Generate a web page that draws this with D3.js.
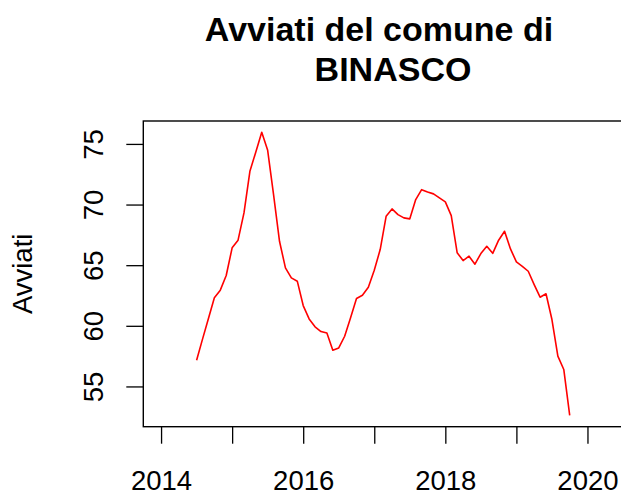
<!DOCTYPE html>
<html>
<head>
<meta charset="utf-8">
<script src="https://cdn.jsdelivr.net/npm/d3@7"></script>
<style>
  body { margin: 0; background: #fff; }
  text { font-family: "Liberation Sans", Arial, sans-serif; }
</style>
</head>
<body>
<div id="chart"></div>
<script>
/* Avviati - BINASCO, monthly series */

const startYear = 2014, startMonth = 7; // first observation: July 2014
const avviati = [
    57.16, 58.9, 60.6, 62.31, 62.94, 64.15, 66.43, 67.06, 69.31, 72.74,
    74.34, 75.96, 74.47, 70.8, 66.97, 64.78, 63.95, 63.68, 61.67, 60.57,
    59.92, 59.53, 59.4, 57.99, 58.18, 59.14, 60.66, 62.25, 62.52, 63.18,
    64.58, 66.29, 69.03, 69.64, 69.17, 68.9, 68.82, 70.41, 71.23, 71.04,
    70.88, 70.55, 70.22, 69.09, 66.02, 65.38, 65.74, 65.08, 65.96, 66.56,
    65.98, 67.06, 67.8, 66.34, 65.27, 64.91, 64.5, 63.4, 62.36, 62.64,
    60.52, 57.5, 56.4, 52.61
];
const xTicks = [2014, 2015, 2016, 2017, 2018, 2019, 2020];
const xLabels = [2014, 2016, 2018, 2020];
const yTicks = [55, 60, 65, 70, 75];

const width = 621,
    height = 493,
    margin = ({ top: 121, right: -2, bottom: 66.3, left: 143.3 });

const data = avviati.map((v, i) => ({
    t: startYear + (startMonth - 1 + i) / 12,
    value: v
}));

let svg = d3.select("#chart")
    .append("svg")
    .attr("width", width)
    .attr("height", height);

let x = d3.scaleLinear()
    .domain([2013.75, 2020.5])
    .range([margin.left, width - margin.right]);

let y = d3.scaleLinear()
    .domain([51.68, 76.89])
    .range([height - margin.bottom, margin.top]);

// x axis
let gx = svg.append("g")
    .attr("transform", `translate(0,${height - margin.bottom})`)
    .call(d3.axisBottom(x)
        .tickValues(xTicks)
        .tickSize(17)
        .tickPadding(27)
        .tickFormat(d => xLabels.includes(d) ? d : ""));
gx.select(".domain").remove();
gx.selectAll(".tick line").attr("stroke", "#000").attr("stroke-width", 1.3);
gx.selectAll(".tick text")
    .attr("font-size", 27.5)
    .attr("fill", "#000")
    .attr("font-family", "Liberation Sans, Arial, sans-serif");

// y axis
let gy = svg.append("g")
    .attr("transform", `translate(${margin.left},0)`)
    .call(d3.axisLeft(y)
        .tickValues(yTicks)
        .tickSize(17));
gy.select(".domain").remove();
gy.selectAll(".tick line").attr("stroke", "#000").attr("stroke-width", 1.3);
gy.selectAll(".tick text")
    .attr("font-size", 27.5)
    .attr("fill", "#000")
    .attr("font-family", "Liberation Sans, Arial, sans-serif")
    .attr("x", null)
    .attr("dy", null)
    .attr("text-anchor", "middle")
    .attr("transform", "translate(-40.3,0) rotate(-90)");

// plot box
svg.append("rect")
    .attr("x", margin.left)
    .attr("y", margin.top)
    .attr("width", width - margin.right - margin.left)
    .attr("height", height - margin.bottom - margin.top)
    .attr("fill", "none")
    .attr("stroke", "#000")
    .attr("stroke-width", 1.4);

// series
svg.append("path")
    .datum(data)
    .attr("fill", "none")
    .attr("stroke", "#ff0000")
    .attr("stroke-width", 1.6)
    .attr("stroke-linejoin", "round")
    .attr("d", d3.line()
        .x(d => x(d.t))
        .y(d => y(d.value)));

// y label
svg.append("text")
    .attr("transform", `translate(32,${(margin.top + height - margin.bottom) / 2}) rotate(-90)`)
    .attr("text-anchor", "middle")
    .attr("font-size", 27.5)
    .text("Avviati");

// title
svg.append("text")
    .attr("x", 379)
    .attr("y", 41)
    .attr("text-anchor", "middle")
    .attr("font-size", 34)
    .attr("font-weight", "bold")
    .text("Avviati del comune di");

svg.append("text")
    .attr("x", 393)
    .attr("y", 81)
    .attr("text-anchor", "middle")
    .attr("font-size", 34)
    .attr("font-weight", "bold")
    .text("BINASCO");
</script>
</body>
</html>
